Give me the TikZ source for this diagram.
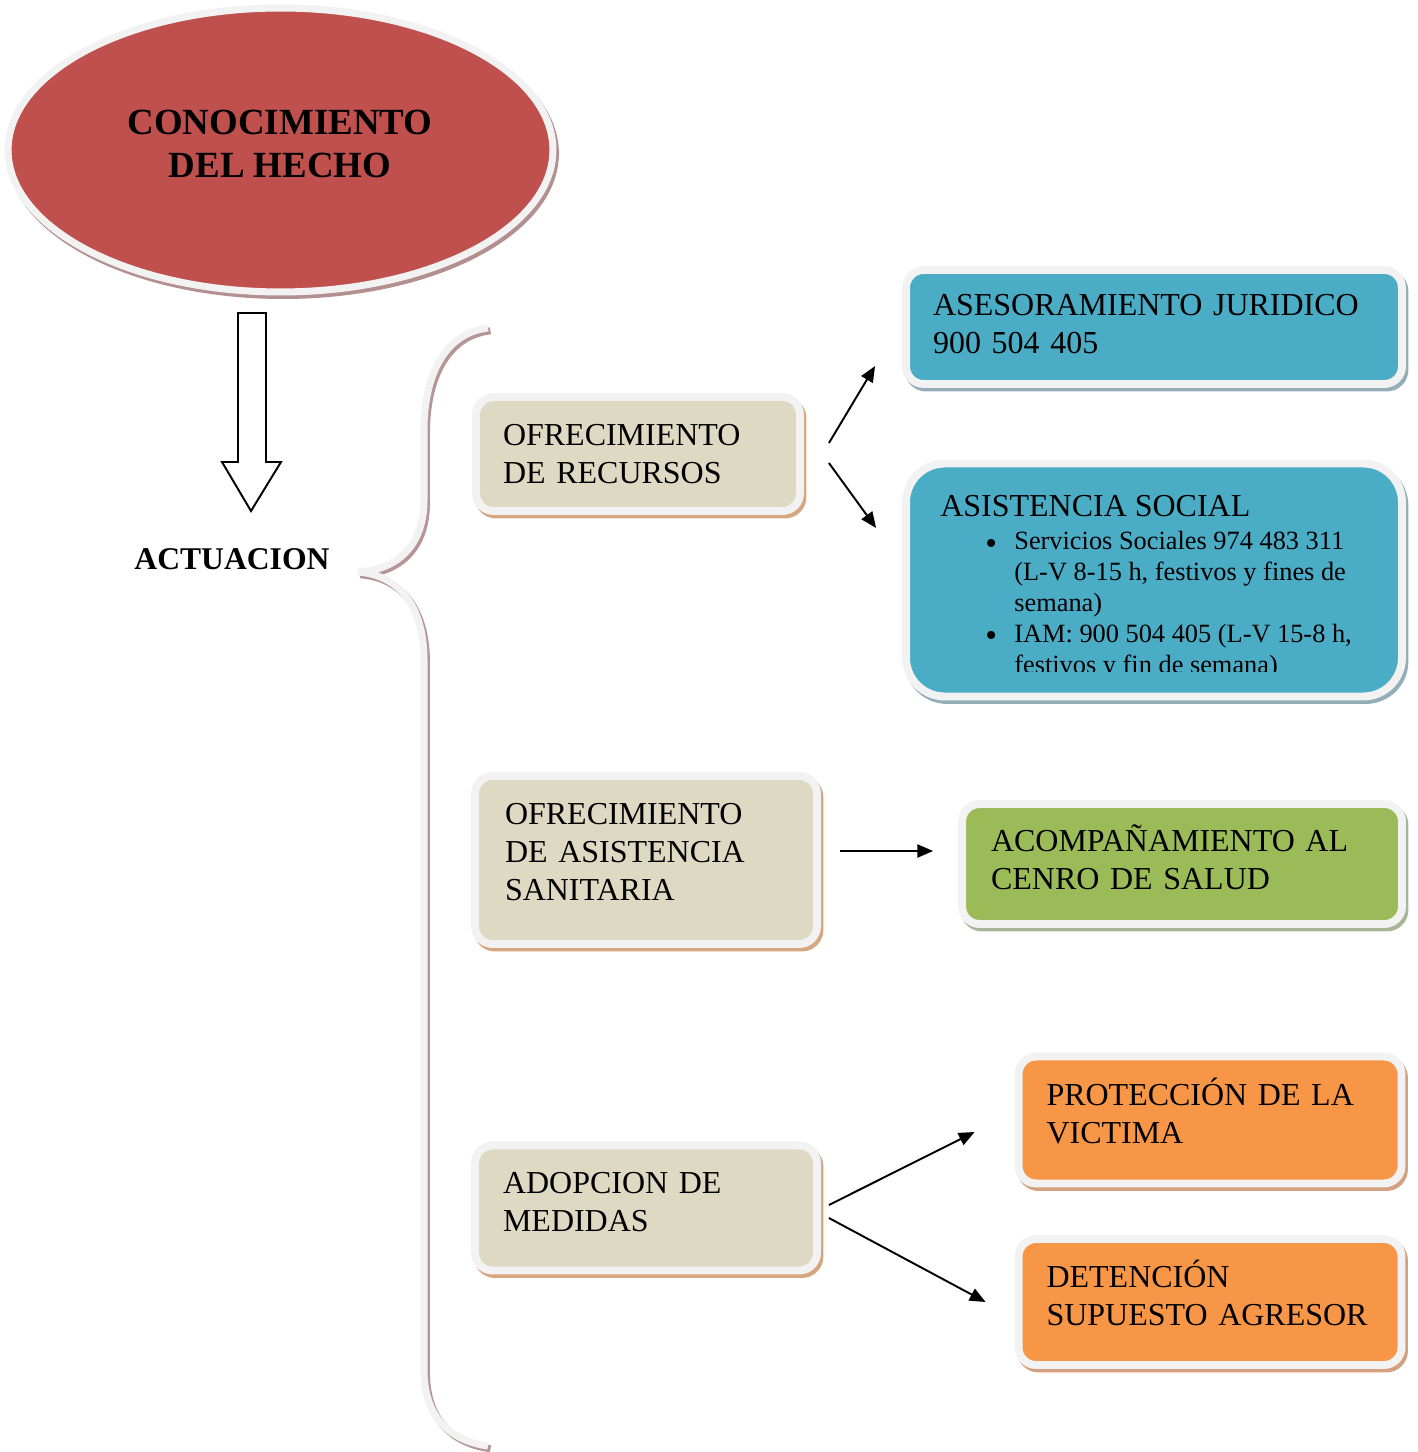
\documentclass[tikz,border=0pt]{standalone}
\usepackage{fontspec}
\setmainfont{Liberation Serif}
\usetikzlibrary{shapes.geometric,arrows.meta,calc}

\definecolor{rimgray}{HTML}{F2F2F2}
\definecolor{hechored}{HTML}{C0504D}
\definecolor{hechosh}{HTML}{B48F8F}
\definecolor{bracesh}{HTML}{B59595}
\definecolor{beige}{HTML}{DDD9C3}
\definecolor{beigesh}{HTML}{D6A67F}
\definecolor{aqua}{HTML}{4BACC6}
\definecolor{aquash}{HTML}{93AEB8}
\definecolor{leaf}{HTML}{9BBB59}
\definecolor{leafsh}{HTML}{A9B598}
\definecolor{tang}{HTML}{F79646}
\definecolor{tangsh}{HTML}{D4A17F}

\newcommand{\boxfont}{\fontsize{18.2}{21.6}\selectfont}
\newcommand{\listfont}{\fontsize{15}{17.6}\selectfont}
\newcommand{\bigdot}{\raisebox{-2.3pt}{\fontsize{19}{17.6}\selectfont\textbullet}}

\begin{document}
\begin{tikzpicture}[x=0.02cm, y=-0.02cm,
  box/.style 2 args={rounded corners=10pt, fill=#1, draw=rimgray, line width=4.5pt,
    preaction={fill=#2, draw=#2, line width=4.5pt, transform canvas={xshift=1.4pt, yshift=-2pt}},
    align=left, inner xsep=0pt, inner ysep=0pt, font=\boxfont},
  arr/.style={line width=1.1pt, -{Triangle[length=9pt, width=7.5pt]}}]

\useasboundingbox (0,0) rectangle (1417,1452);

% ellipse on top
\node[ellipse, minimum width=10.9cm, minimum height=5.68cm, inner sep=0pt,
  fill=hechored, draw=rimgray, line width=4pt,
  preaction={draw=hechosh, fill=hechosh, line width=4pt, transform canvas={xshift=1.4pt, yshift=-2pt}}]
  (hecho) at (280.5,150) {};
\node[font=\fontsize{21}{24.5}\selectfont\bfseries, align=center] (hechotxt) at (280,144)
  {CONOCIMIENTO\\DEL HECHO};

% hollow arrow down
\draw[line width=1.1pt, fill=white, line join=miter]
  (238,313) -- (266,313) -- (266,462) -- (281,462) -- (251,511) -- (222,462) -- (238,462) -- cycle;

\node[font=\fontsize{18}{21}\selectfont\bfseries] (actuacion) at (232,559) {ACTUACION};

% brace
\draw[rimgray, line width=4pt,
  preaction={draw=bracesh, line width=4pt, transform canvas={xshift=1.4pt, yshift=-1.6pt}}]
  (488,328) .. controls (445,333) and (424,375) .. (424,430) -- (424,500)
  .. controls (424,545) and (398,570) .. (358,572)
  .. controls (398,575) and (424,605) .. (424,660) -- (424,1370)
  .. controls (424,1412) and (445,1440) .. (488,1446);

% first row
\node[box={beige}{beigesh}, minimum width=6.48cm, minimum height=2.28cm, text width=5.4cm]
  (recursos) at (638,454) {OFRECIMIENTO\\DE RECURSOS};
\node[box={aqua}{aquash}, minimum width=9.92cm, minimum height=2.28cm, text width=8.84cm,
  text depth=0.88cm]
  (juridico) at (1154,327) {ASESORAMIENTO JURIDICO\\900 504 405};
\node[box={aqua}{aquash}, rounded corners=22pt, minimum width=9.92cm, minimum height=4.66cm]
  (social) at (1154,580) {};

\begin{scope}
\clip (906,464) rectangle (1402,671);
\node[font=\boxfont, anchor=base west, inner sep=0pt] (socialtit) at (940,516) {ASISTENCIA SOCIAL};
\node[font=\listfont, anchor=north west, inner sep=0pt] (sociallist) at (985,528)
  {\begin{tabular}{@{}p{0.58cm}@{}l@{}}
   \bigdot & Servicios Sociales 974 483 311\\
           & (L-V 8-15 h, festivos y fines de\\
           & semana)\\
   \bigdot & IAM: 900 504 405 (L-V 15-8 h,\\
           & festivos y fin de semana)
   \end{tabular}};
\end{scope}

% second row
\node[box={beige}{beigesh}, minimum width=6.84cm, minimum height=3.36cm, text width=5.64cm,
  text depth=1.84cm]
  (sanitaria) at (646,860) {OFRECIMIENTO\\DE ASISTENCIA\\SANITARIA};
\node[box={leaf}{leafsh}, minimum width=8.8cm, minimum height=2.4cm, text width=7.64cm,
  text depth=1.02cm]
  (salud) at (1182,864) {ACOMPAÑAMIENTO AL\\CENRO DE SALUD};

% third row
\node[box={beige}{beigesh}, minimum width=6.84cm, minimum height=2.5cm, text width=5.72cm,
  text depth=1.0cm]
  (medidas) at (646,1208) {ADOPCION DE\\MEDIDAS};
\node[box={tang}{tangsh}, minimum width=7.66cm, minimum height=2.54cm, text width=6.54cm,
  text depth=1.12cm]
  (victima) at (1210,1120) {PROTECCIÓN DE LA\\VICTIMA};
\node[box={tang}{tangsh}, minimum width=7.66cm, minimum height=2.52cm, text width=6.54cm,
  text depth=1.12cm]
  (agresor) at (1210,1302) {DETENCIÓN\\SUPUESTO AGRESOR};

% arrows
\draw[arr] ([shift={(25,-11)}]recursos.east) -- ([shift={(-27,39)}]juridico.west);
\draw[arr] ([shift={(25,9)}]recursos.east) -- ([shift={(-26,-52)}]social.west);
\draw[arr] ([shift={(19,-9)}]sanitaria.east) -- ([shift={(-25,-13)}]salud.west);
\draw[arr] ([shift={(8,-3)}]medidas.east) -- ([shift={(-40,12)}]victima.west);
\draw[arr] ([shift={(8,10)}]medidas.east) -- ([shift={(-29,0)}]agresor.west);

\end{tikzpicture}
\end{document}
